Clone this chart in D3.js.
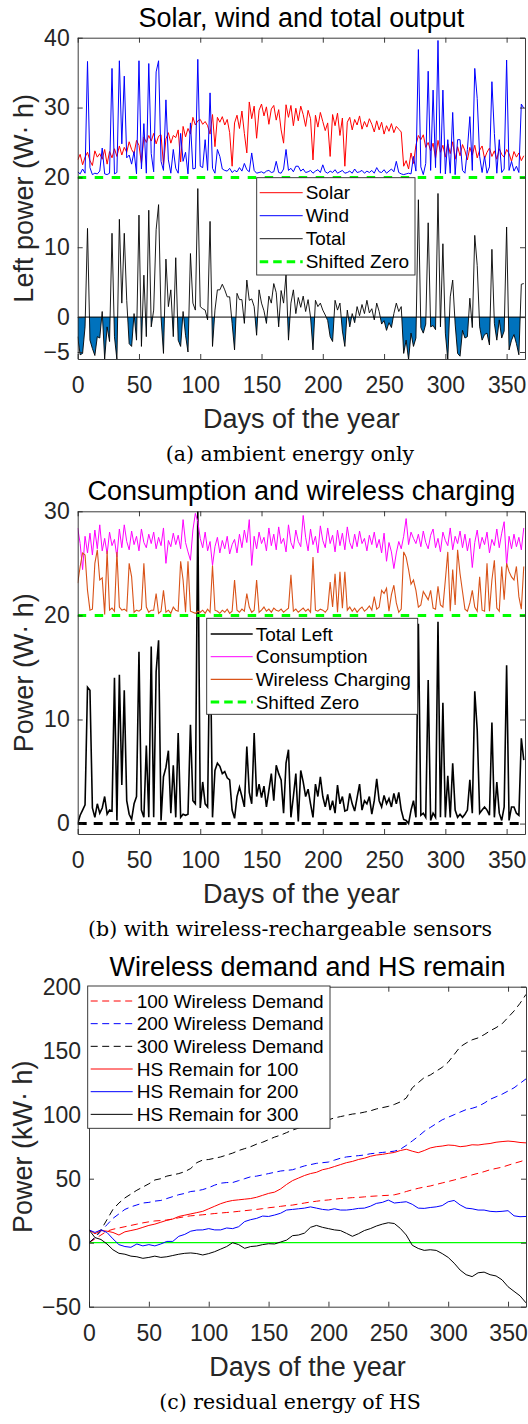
<!DOCTYPE html>
<html>
<head>
<meta charset="utf-8">
<script src="https://cdn.jsdelivr.net/npm/d3@7"></script>
<style>
body { margin: 0; background: #fff; }
text { font-family: "Liberation Sans", Arial, sans-serif; }
.caption { font-family: "DejaVu Serif", "Liberation Serif", serif; fill: #000; }
</style>
</head>
<body>
<svg id="fig" width="528" height="1424"></svg>
<script>
// ---------- data ----------
// panels (a) and (b): one value every second day, days 0..364
const days2 = d3.range(0, 365, 2);

const solar = [
22.5,23.3,21.8,22.9,23.6,22.4,21.7,23.8,22.9,23.4,
22.6,24.0,21.9,23.7,22.8,24.1,23.0,24.5,23.2,24.3,
23.6,25.1,24.0,23.4,25.3,24.6,22.0,25.8,25.0,26.0,
25.2,26.3,24.8,25.9,26.1,21.8,25.5,26.4,24.9,26.0,
25.7,26.8,22.2,27.3,25.8,27.0,26.2,28.6,27.5,28.1,
28.3,27.6,28.0,27.4,26.2,29.0,24.4,28.6,27.9,28.7,
27.5,28.3,26.4,21.6,27.8,28.9,27.0,29.5,26.3,23.5,
30.8,28.4,30.2,25.6,29.6,30.5,28.8,30.1,27.6,29.8,
30.3,28.2,29.7,26.8,24.9,30.4,28.6,30.3,27.4,29.9,
28.1,30.2,29.0,27.3,29.6,28.4,22.5,28.9,27.2,29.3,
28.0,26.7,27.8,23.0,29.0,27.4,29.2,26.0,28.5,21.6,
27.9,28.6,26.8,28.3,27.5,28.8,26.9,28.0,27.2,28.4,
27.6,26.5,28.1,26.8,27.9,26.2,27.4,26.6,27.7,26.4,
27.3,26.9,26.5,21.6,22.4,21.2,23.5,22.0,24.6,26.0,
25.4,26.1,24.3,25.0,23.8,24.9,22.7,25.3,23.6,24.6,
22.9,24.8,23.4,25.1,22.6,24.4,23.1,24.7,23.8,22.5,
24.3,23.2,24.6,22.8,23.9,24.5,22.7,23.6,24.2,23.0,
23.8,22.6,24.1,23.3,22.9,24.0,23.4,22.3,23.7,22.9,
23.5,22.4,23.1];

const wind = [
20.8,20.5,21.2,20.6,36.6,21.4,20.4,20.6,20.5,20.9,
24.2,20.5,20.4,20.6,35.6,20.5,20.7,36.7,24.8,34.5,
22.8,23.2,21.9,23.7,20.5,36.7,21.2,27.7,20.6,36.3,
23.4,20.8,35.1,36.7,22.3,21.0,31.1,22.5,20.6,24.0,
21.3,20.6,26.3,22.3,23.6,20.5,27.8,21.2,21.3,36.9,
21.6,21.4,25.4,21.0,32.1,21.3,20.6,24.0,23.0,21.2,
21.0,20.9,21.3,20.7,21.0,20.8,21.4,20.9,22.0,21.1,
20.8,23.5,21.0,20.6,20.7,20.8,20.6,20.9,21.0,20.7,
20.8,22.3,20.7,20.6,21.2,24.0,21.0,21.3,20.8,21.6,
21.6,20.9,21.2,20.7,20.8,21.0,20.6,20.9,21.1,20.7,
21.8,20.8,20.6,20.9,20.7,21.1,20.6,20.8,21.0,20.6,
20.7,20.9,20.6,21.2,20.7,20.8,21.0,20.6,20.9,20.7,
21.0,20.6,21.4,20.8,20.7,21.1,20.6,20.9,21.2,20.8,
22.3,20.7,20.5,20.4,20.5,20.6,20.5,23.0,20.9,38.3,
21.5,20.4,22.0,35.2,21.0,32.5,21.4,39.6,20.6,32.5,
20.5,25.4,20.6,29.3,20.4,25.4,25.4,21.0,20.6,24.0,
28.7,21.0,35.6,31.3,23.0,20.7,23.0,20.6,21.5,33.7,
26.3,20.6,25.4,20.7,21.2,36.8,21.0,22.3,20.9,21.6,
20.7,30.5,29.9];

const totalA = [
-2.8,-5.4,-5.2,-1.4,12.7,-3.3,-4.5,-5.5,-2.8,-3.0,
0.8,-6.0,-1.4,-3.5,12.0,-2.8,-6.1,14.0,2.0,12.0,
2.4,-3.8,-4.2,0.5,-3.3,14.6,-4.2,6.0,-2.8,15.3,
-1.4,1.0,12.5,16.1,0.0,-5.2,8.3,1.5,3.9,-2.8,
8.5,-3.3,-4.2,0.8,-2.6,-5.0,9.1,2.0,1.0,18.4,
1.5,1.2,1.0,-0.4,13.7,-4.2,1.0,3.9,3.9,4.7,
3.9,2.9,2.9,-0.9,-4.7,3.4,2.5,2.5,-0.9,5.3,
2.4,2.6,1.5,-2.6,3.9,2.0,0.9,-0.9,3.0,2.0,
4.8,3.5,-1.4,3.8,2.0,6.1,-3.3,2.0,3.9,0.5,
2.8,1.4,3.0,0.8,2.5,0.0,-4.7,2.4,1.5,2.0,
1.0,0.3,-0.5,-2.8,-3.5,2.4,1.0,2.0,-2.0,-4.2,
1.0,-1.4,0.5,-0.8,1.5,0.2,1.8,0.5,2.4,0.6,
1.2,-0.4,2.0,0.8,-1.0,-0.5,-1.9,-0.8,-1.5,0.5,
2.0,0.8,1.5,-5.2,-3.3,-6.1,-2.3,-4.2,-3.0,16.8,
-1.5,-2.3,-1.0,13.5,-1.4,-1.2,-1.8,17.7,-1.4,10.5,
-2.3,-6.1,2.9,5.3,-1.0,-5.2,-5.6,-1.9,-3.0,-2.8,
2.7,-1.5,11.7,7.4,-1.4,-3.3,-2.5,-2.3,-4.0,9.7,
-0.9,-3.3,-0.4,-3.0,-2.0,12.9,-4.7,-3.3,-2.5,-3.8,
-5.4,4.7,4.8];

const consumption = [
28.4,26.9,24.4,27.6,26.0,27.9,25.8,28.2,26.4,28.7,
26.2,27.4,25.9,28.0,26.7,27.3,25.6,28.3,26.5,28.7,
27.1,26.3,28.1,26.8,27.6,26.2,28.3,27.0,26.5,27.8,
26.9,28.0,26.4,27.5,26.7,28.4,25.0,27.2,26.6,27.9,
26.8,27.7,26.4,29.2,27.0,26.1,25.3,28.2,29.8,29.0,
27.4,26.5,28.0,26.2,27.1,24.8,26.6,27.5,26.0,27.2,
26.4,27.6,25.9,26.8,27.3,26.0,27.8,26.5,28.2,27.0,
29.2,24.8,27.6,26.4,28.0,26.9,27.5,26.2,28.4,26.7,
27.8,26.3,28.5,26.9,27.4,26.1,28.7,27.0,26.4,28.2,
27.1,26.6,29.6,27.5,26.2,28.3,26.8,27.6,26.0,28.6,
27.2,26.5,28.4,26.9,27.7,26.1,28.2,26.7,27.9,26.3,
28.5,27.0,26.4,27.8,26.6,28.1,26.9,27.4,26.2,27.7,
26.8,28.0,26.5,27.3,26.0,27.9,25.2,27.0,26.1,24.5,
26.0,27.1,26.4,27.6,29.3,26.8,28.0,27.4,26.9,27.8,
26.6,28.1,27.0,26.4,27.7,28.3,26.5,27.4,26.1,28.0,
27.2,26.7,28.4,26.3,27.6,26.9,28.1,26.5,27.8,26.2,
27.4,24.6,27.0,28.2,26.4,27.5,26.8,28.0,26.0,27.3,
26.7,28.3,26.5,27.9,29.0,24.8,27.6,26.4,27.8,26.6,
27.5,26.3,28.4];

const wireless = [
23.1,24.7,26.0,25.8,22.4,20.5,20.6,25.0,26.3,23.4,
23.6,20.1,26.2,20.5,20.7,20.4,26.1,20.8,20.5,20.6,
20.4,25.0,23.7,20.3,20.5,20.4,20.6,25.0,20.8,20.3,
20.5,20.5,22.1,20.2,20.4,22.4,20.3,20.5,20.2,20.8,
20.5,20.4,25.2,23.4,20.3,25.2,20.4,20.3,20.2,20.4,
20.3,20.5,20.2,20.6,20.3,24.8,20.5,20.4,20.2,20.5,
20.3,20.6,20.2,20.4,23.4,20.5,20.3,20.6,20.4,22.1,
20.8,20.3,20.5,23.4,20.3,20.5,20.8,20.4,20.6,20.3,
20.7,20.5,20.4,20.6,20.3,20.5,20.7,23.9,20.4,20.6,
20.3,20.5,20.7,20.4,20.6,20.3,25.6,20.5,20.4,20.6,
20.5,20.3,20.6,23.2,20.8,24.0,20.3,24.2,20.7,24.2,
20.5,20.8,20.4,20.7,20.3,20.6,20.8,20.4,20.6,20.9,
20.5,21.8,20.6,20.8,22.4,22.1,22.6,20.4,22.0,22.9,
21.2,20.3,20.6,26.1,25.6,24.4,23.0,23.4,22.4,20.8,
21.0,22.3,21.9,21.5,22.4,20.7,20.6,22.8,21.0,20.8,
23.4,26.1,20.4,24.4,21.0,26.3,24.0,22.3,20.6,20.4,
21.2,22.4,20.8,20.4,23.7,20.5,20.4,25.0,20.4,23.4,
25.3,20.7,20.4,24.7,21.5,25.0,24.2,23.7,23.4,24.7,
21.8,20.6,24.7];

const totalLeft = [
0.0,0.8,1.3,1.8,13.1,12.8,1.5,0.6,1.9,1.0,
1.5,2.6,0.9,1.3,1.2,14.0,0.3,14.3,3.7,12.8,
2.2,0.9,0.4,1.9,2.6,16.5,1.3,0.6,7.5,0.6,
17.0,0.6,14.6,17.6,0.3,4.5,5.4,7.0,1.0,5.6,
0.6,8.7,0.6,0.9,0.8,0.9,9.5,2.2,1.9,30.0,
1.5,4.0,1.9,1.6,19.5,0.6,5.1,5.8,5.5,4.8,
5.0,4.4,4.2,1.3,0.5,2.6,3.5,2.6,1.6,7.4,
3.0,1.9,8.7,2.6,3.8,2.5,3.6,1.6,3.2,4.8,
2.2,5.6,4.8,4.2,1.0,5.8,7.1,0.6,2.6,4.8,
0.2,5.1,4.0,2.6,3.3,1.9,0.6,3.8,2.6,4.5,
2.6,1.6,2.8,1.3,2.2,1.0,3.7,1.9,2.6,1.2,
1.3,2.9,1.9,1.2,2.5,3.8,1.3,2.2,1.9,2.6,
0.9,2.2,4.3,2.2,1.6,2.7,1.9,2.4,1.6,2.9,
1.9,3.0,1.3,0.4,0.3,0.0,1.3,2.2,0.6,19.2,
0.8,1.0,0.6,13.8,0.3,1.0,0.6,19.4,0.6,11.6,
0.6,4.6,0.6,5.8,1.3,0.6,0.9,0.6,0.9,1.3,
4.2,1.0,12.7,9.0,1.0,1.3,1.6,1.3,0.8,9.7,
0.6,4.0,1.0,0.3,1.6,15.2,0.3,1.6,1.6,1.0,
0.8,8.2,6.1];

// panel (c): one value every fifth day, days 0..365
const days5 = d3.range(0, 366, 5);
const wd100 = [0,3,6,9,10.5,11.5,12.5,13.5,14.5,15.5,16.3,17,17.3,17.7,18.5,19.5,20.3,21,21.4,21.8,
22.3,22.8,23.2,23.6,24,24.5,25,25.5,26,26.6,27.3,27.8,28.4,29,29.4,30.2,31,31.8,32.4,33,
33.4,34,34.5,34.8,35.2,35.4,35.8,36.2,36.5,36.8,37,37.4,38.5,40,41.3,42.5,43.5,44.3,45.5,46.7,
47.8,49,50.3,51.5,53,54.2,55.5,57,58,59,60.5,62,63.3,64.8];
const wd200 = [0,4,9,14,19,22.5,26,28,29.5,31,31.5,32.5,33,34.5,36,37.5,38.5,40,40.5,41.5,
43,45,46.5,47,47,48.5,50,51.5,52,53,54,55,56,56.5,57,58.5,60,61,62,62.5,
63,64.5,66,67,67.5,68,68.5,69.5,70,70.5,71,71.5,73,76,79.5,83,87,90,93,96,
98,100,102,104,105,106.5,109,112,114,116,118.5,121,124.5,128];
const wd300 = [0,4,10,18,26,31,35,38,41,43.5,46,49,50,52,53,54,55.5,58,62.5,64.6,
65,66,67,68.5,70,72,73.5,75,77,78.5,80.5,82.5,84,86,88,89.5,91,92.5,94,95,
96,97.5,98.5,99.5,100.5,101,102,103,104.5,105.5,106.5,108,110,113,121,125,129,131,134,137,
141,147,153,156,158.5,160,162.5,165.5,168,171,176,181,187,194];
const hs100 = [10,7,9.5,9,8,6,8.5,9.5,10.5,12,13.5,14.5,16,17.5,18.5,20.5,21.5,22.5,23.5,24.5,
26.5,28.5,30.5,32,33,33.5,34,34.5,35.5,37,38.5,39.5,42,45.5,48.5,50.5,52.5,54,55,57,
58,59.5,61,62.5,63.5,65,66,67.5,68.5,69,69.8,70.5,72,73,71.5,70.3,72,74,75,75.5,
76.3,76,75,75.5,76.5,76.3,77,77.5,78.5,79,79.4,79,78.3,78];
const hs200 = [10,8,10,8,3,-1.5,-3,-3.6,-1,-2.5,-1.5,-2.5,-1,1,1,5,6.5,9,9.9,10,
11,10,10,11.5,11,12.5,16.5,18,19,20.8,20.5,21.6,23,25.5,26,26.5,27,28,27,26,
25.5,26.5,25.5,25.5,26,26.8,27,28.5,30.7,31.5,33.3,31,31.5,32,30,27,26.8,27.5,28,29,
32,33,29.5,27,26.5,25.5,25.5,24.5,24.2,24.5,25,21,20.3,20.5];
const hs300 = [10,4,2.5,-1,-5.5,-8.3,-9,-10.5,-11,-12.2,-11.5,-10.5,-11.5,-11,-10,-9,-8.3,-8,-8.5,-9.6,
-8.5,-7,-5,-3,0,-1.5,-4.4,-3,-2.6,-1.5,-0.8,-1,0.5,2,5.5,6,7.5,12,13.5,12,
11,10,9.5,7.3,5,7,9.5,11,13,14.5,15.6,15,11.2,6,-2,-4.5,-6,-5.5,-6,-8.5,
-11.5,-16,-21.4,-25,-26.5,-23.5,-23,-25,-26,-29,-34.4,-38,-41.5,-47];

// ticks
const dayTicks = [0, 50, 100, 150, 200, 250, 300, 350];
const yTicksA = [-5, 0, 10, 20, 30, 40];
const yTicksB = [0, 10, 20, 30];
const yTicksC = [-50, 0, 50, 100, 150, 200];

// ---------- drawing ----------
const svg = d3.select("#fig");
svg.append("rect").attr("width", 528).attr("height", 1424).attr("fill", "#fff");

const axisColor = "#262626";

function drawAxes(g, x, y, yTicks) {
    let [xl, xr] = x.range();
    let [yb, yt] = y.range();

    let styleAxis = sel => sel
        .style("color", axisColor)
        .attr("font-family", '"Liberation Sans", Arial, sans-serif')
        .attr("font-size", 23)
        .call(a => a.selectAll("path, line").attr("stroke-width", 0.9));

    g.append("g").attr("transform", `translate(0,${yb})`)
        .call(d3.axisBottom(x).tickValues(dayTicks).tickSizeInner(-5).tickSizeOuter(0).tickPadding(18))
        .call(styleAxis);
    g.append("g").attr("transform", `translate(0,${yt})`)
        .call(d3.axisTop(x).tickValues(dayTicks).tickSizeInner(-5).tickSizeOuter(0).tickFormat(""))
        .call(styleAxis);
    g.append("g").attr("transform", `translate(${xl},0)`)
        .call(d3.axisLeft(y).tickValues(yTicks).tickSizeInner(-5).tickSizeOuter(0).tickPadding(8))
        .call(styleAxis);
    g.append("g").attr("transform", `translate(${xr},0)`)
        .call(d3.axisRight(y).tickValues(yTicks).tickSizeInner(-5).tickSizeOuter(0).tickFormat(""))
        .call(styleAxis);
}

function drawLabels(g, x, y, title, ylabel, caption, ylabelX) {
    let [xl, xr] = x.range();
    let [yb, yt] = y.range();
    let cx = (xl + xr) / 2;

    g.append("text").attr("x", cx).attr("y", yt - 11)
        .attr("text-anchor", "middle").attr("font-size", 27).attr("fill", "#000")
        .text(title);
    g.append("text").attr("x", cx).attr("y", yb + 69)
        .attr("text-anchor", "middle").attr("font-size", 27).attr("fill", axisColor)
        .text("Days of the year");
    g.append("text")
        .attr("transform", `translate(${ylabelX},${(yb + yt) / 2}) rotate(-90)`)
        .attr("text-anchor", "middle").attr("font-size", 27).attr("fill", axisColor)
        .text(ylabel);
    g.append("text").attr("class", "caption").attr("x", 290).attr("y", yb + 102)
        .attr("text-anchor", "middle").attr("font-size", 20.5)
        .text(caption);
}

function drawLegend(g, box, items) {
    g.append("rect")
        .attr("x", box.x).attr("y", box.y).attr("width", box.w).attr("height", box.h)
        .attr("fill", "#fff").attr("stroke", axisColor).attr("stroke-width", 0.9);
    items.forEach((it, i) => {
        let cy = box.y + box.first + i * box.step;
        g.append("line")
            .attr("x1", box.x + box.l1).attr("x2", box.x + box.l2)
            .attr("y1", cy).attr("y2", cy)
            .attr("stroke", it.color).attr("stroke-width", it.width)
            .attr("stroke-dasharray", it.dash || null);
        g.append("text")
            .attr("x", box.x + box.tx).attr("y", cy).attr("dy", "0.35em")
            .attr("font-size", 19).attr("fill", "#000")
            .text(it.name);
    });
}

function addClip(id, x, y) {
    let [xl, xr] = x.range();
    let [yb, yt] = y.range();
    svg.append("clipPath").attr("id", id)
        .append("rect").attr("x", xl).attr("y", yt).attr("width", xr - xl).attr("height", yb - yt);
}

// ----- panel (a) -----
{
    let g = svg.append("g");
    let x = d3.scaleLinear().domain([0, 365]).range([77.7, 525]);
    let y = d3.scaleLinear().domain([-6, 40]).range([359, 37.7]);
    addClip("clipA", x, y);
    svg.append("clipPath").attr("id", "negA")
        .append("rect").attr("x", x(0)).attr("y", y(0)).attr("width", x(365) - x(0)).attr("height", y(-6) - y(0));

    let plot = g.append("g").attr("clip-path", "url(#clipA)");
    let line = arr => d3.line().x((d, i) => x(days2[i])).y(d => y(d))(arr);

    // negative part of total, filled
    plot.append("path")
        .attr("clip-path", "url(#negA)")
        .attr("d", d3.area().x((d, i) => x(days2[i])).y0(y(0)).y1(d => y(d))(totalA))
        .attr("fill", "#0072BD");
    plot.append("line").attr("x1", x(0)).attr("x2", x(365)).attr("y1", y(0)).attr("y2", y(0))
        .attr("stroke", "#000").attr("stroke-width", 1);

    plot.append("path").attr("d", line(solar)).attr("fill", "none").attr("stroke", "#ff0000").attr("stroke-width", 1);
    plot.append("path").attr("d", line(wind)).attr("fill", "none").attr("stroke", "#0000ff").attr("stroke-width", 1);
    plot.append("path").attr("d", line(totalA)).attr("fill", "none").attr("stroke", "#000").attr("stroke-width", 0.9);
    plot.append("line").attr("x1", x(0)).attr("x2", x(365)).attr("y1", y(20)).attr("y2", y(20))
        .attr("stroke", "#00ff00").attr("stroke-width", 3).attr("stroke-dasharray", "8.5,8.5");

    drawAxes(g, x, y, yTicksA);
    drawLegend(g, {x: 256.7, y: 177.7, w: 158.3, h: 97.3, first: 15, step: 23, l1: 3, l2: 46, tx: 49}, [
        {name: "Solar", color: "#ff0000", width: 1},
        {name: "Wind", color: "#0000ff", width: 1},
        {name: "Total", color: "#000", width: 0.9},
        {name: "Shifted Zero", color: "#00ff00", width: 3, dash: "8.5,5"}
    ]);
    drawLabels(g, x, y, "Solar, wind and total output", "Left power (W\u00b7 h)", "(a) ambient energy only", 33);
}

// ----- panel (b) -----
{
    let g = svg.append("g");
    let x = d3.scaleLinear().domain([0, 365]).range([77.7, 525]);
    let y = d3.scaleLinear().domain([-1, 30]).range([834, 511.3]);
    addClip("clipB", x, y);
    let plot = g.append("g").attr("clip-path", "url(#clipB)");
    let line = arr => d3.line().x((d, i) => x(days2[i])).y(d => y(d))(arr);

    plot.append("line").attr("x1", x(0)).attr("x2", x(365)).attr("y1", y(0)).attr("y2", y(0))
        .attr("stroke", "#000").attr("stroke-width", 3).attr("stroke-dasharray", "9,7");
    plot.append("path").attr("d", line(totalLeft)).attr("fill", "none").attr("stroke", "#000").attr("stroke-width", 1.6);
    plot.append("path").attr("d", line(consumption)).attr("fill", "none").attr("stroke", "#ff00ff").attr("stroke-width", 1);
    plot.append("path").attr("d", line(wireless)).attr("fill", "none").attr("stroke", "#D95319").attr("stroke-width", 1.1);
    plot.append("line").attr("x1", x(0)).attr("x2", x(365)).attr("y1", y(20)).attr("y2", y(20))
        .attr("stroke", "#00ff00").attr("stroke-width", 3).attr("stroke-dasharray", "8.5,8.5");

    drawAxes(g, x, y, yTicksB);
    drawLegend(g, {x: 206.7, y: 618.3, w: 211, h: 96, first: 15.7, step: 22.7, l1: 4, l2: 46, tx: 49}, [
        {name: "Total Left", color: "#000", width: 1.6},
        {name: "Consumption", color: "#ff00ff", width: 1},
        {name: "Wireless Charging", color: "#D95319", width: 1.1},
        {name: "Shifted Zero", color: "#00ff00", width: 3, dash: "8.5,5"}
    ]);
    drawLabels(g, x, y, "Consumption and wireless charging", "Power (W\u00b7 h)", "(b) with wireless-rechargeable sensors", 33);
}

// ----- panel (c) -----
{
    let g = svg.append("g");
    let x = d3.scaleLinear().domain([0, 365]).range([89, 526]);
    let y = d3.scaleLinear().domain([-50, 200]).range([1306.7, 986.7]);
    addClip("clipC", x, y);
    let plot = g.append("g").attr("clip-path", "url(#clipC)");
    let line = arr => d3.line().x((d, i) => x(days5[i])).y(d => y(d))(arr);

    let series = [
        {name: "100 Wireless Demand", data: wd100, color: "#ff0000", dash: "7,4.5"},
        {name: "200 Wireless Demand", data: wd200, color: "#0000ff", dash: "7,4.5"},
        {name: "300 Wireless Demand", data: wd300, color: "#000", dash: "7,4.5"},
        {name: "HS Remain for 100", data: hs100, color: "#ff0000"},
        {name: "HS Remain for 200", data: hs200, color: "#0000ff"},
        {name: "HS Remain for 300", data: hs300, color: "#000"}
    ];

    plot.append("line").attr("x1", x(0)).attr("x2", x(365)).attr("y1", y(0)).attr("y2", y(0))
        .attr("stroke", "#00ff00").attr("stroke-width", 1.2);
    series.forEach(s => {
        plot.append("path").attr("d", line(s.data)).attr("fill", "none")
            .attr("stroke", s.color).attr("stroke-width", 1)
            .attr("stroke-dasharray", s.dash || null);
    });

    drawAxes(g, x, y, yTicksC);
    drawLegend(g, {x: 87.7, y: 986, w: 242.3, h: 142.3, first: 15, step: 22.67, l1: 3, l2: 45, tx: 49},
        series.map(s => ({name: s.name, color: s.color, width: 1, dash: s.dash})));
    drawLabels(g, x, y, "Wireless demand and HS remain", "Power (kW\u00b7 h)", "(c) residual energy of HS", 32);
}
</script>
</body>
</html>
